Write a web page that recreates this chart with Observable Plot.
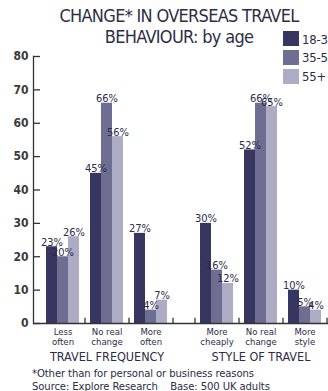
<!DOCTYPE html>
<html>
<head>
<meta charset="utf-8">
<script src="https://cdn.jsdelivr.net/npm/d3@7"></script>
<script src="https://cdn.jsdelivr.net/npm/@observablehq/plot@0.6"></script>
<style>
  html, body { margin: 0; padding: 0; background: #fff; }
  #wrap { position: relative; width: 328px; height: 391px; overflow: hidden; font-family: "DejaVu Sans Condensed", sans-serif; color: #2c2c48; }
  #title { position: absolute; left: 0; width: 358px; top: 5px; text-align: center; font-size: 18px; line-height: 21px; letter-spacing: -0.7px; color: #2e2e44; }
  #chart { position: absolute; left: 0; top: 0; }
  #chart svg { max-width: none !important; }
  .sw { position: absolute; left: 283px; width: 16px; height: 15px; }
  .lab { position: absolute; left: 302px; font-size: 13px; line-height: 15px; color: #2c2c48; white-space: nowrap; letter-spacing: -0.2px; }
  #foot { position: absolute; left: 32px; top: 368px; font-size: 11.2px; line-height: 12.5px; color: #2c2c48; white-space: nowrap; letter-spacing: -0.1px; }
</style>
</head>
<body>
<div id="wrap">
  <div id="chart"></div>
  <div id="title"></div>
  <div id="legend"></div>
  <div id="foot"></div>
</div>
<script>
// ---- data ----
const sections = ["TRAVEL FREQUENCY", "STYLE OF TRAVEL"];
const freqGroups = ["Less often", "No real change", "More often"];
const styleGroups = ["More cheaply", "No real change", "More style"];
const ages = ["18-34", "35-54", "55+"];
const ageColors = ["#363660", "#6e6e92", "#acacc5"];
const freq_18_34 = [23, 45, 27];
const freq_35_54 = [20, 66, 4];
const freq_55plus = [26, 56, 7];
const style_18_34 = [30, 52, 10];
const style_35_54 = [16, 66, 5];
const style_55plus = [12, 65, 4];
const yTicks = [0, 10, 20, 30, 40, 50, 60, 70, 80];
const titleLines = ["CHANGE* IN OVERSEAS TRAVEL", "BEHAVIOUR: by age"];
const footnotes = ["*Other than for personal or business reasons", "Source: Explore Research    Base: 500 UK adults"];

// ---- build table ----
const sectionGroups = [freqGroups, styleGroups];
const sectionValues = [
  [freq_18_34, freq_35_54, freq_55plus],
  [style_18_34, style_35_54, style_55plus]
];
const rows = [];
const domain = [];
const tickKeys = [];
const groupLabels = [];
const sectionLabels = [];
const wrapLabel = g => g.startsWith("No real") ? g.replace("No real ", "No real\n") : g.replace(" ", "\n");
sectionGroups.forEach((groups, si) => {
  groups.forEach((g, gi) => {
    ages.forEach((a, ai) => {
      const key = `${si}|${g}|${a}`;
      domain.push(key);
      rows.push({section: sections[si], group: g, age: a, value: sectionValues[si][ai][gi], key});
    });
    groupLabels.push({key: `${si}|${g}|${ages[1]}`, label: wrapLabel(g)});
    if (gi === 1) sectionLabels.push({key: `${si}|${g}|${ages[1]}`, label: sections[si]});
    if (gi < groups.length - 1) { const s = `sp${si}-${gi}`; domain.push(s); tickKeys.push(s); }
  });
  if (si < sectionGroups.length - 1) {
    ["m0", "m1", "m2"].forEach(m => domain.push(m));
    tickKeys.push("m0", "m2");
  }
});
domain.push("end"); tickKeys.push("end");

const font = '"DejaVu Sans Condensed", sans-serif';
const ink = "#2c2c48";

const chart = Plot.plot({
  width: 352,
  height: 391,
  marginLeft: 33,
  marginRight: 8,
  marginTop: 56,
  marginBottom: 68,
  style: {fontFamily: font, background: "transparent", overflow: "visible", maxWidth: "none"},
  x: {type: "band", domain, paddingInner: 0, paddingOuter: 0.68, axis: null},
  y: {domain: [0, 80], axis: null},
  color: {domain: ages, range: ageColors},
  marks: [
    Plot.barY(rows, {x: "key", y: "value", fill: "age"}),
    Plot.ruleY([0], {stroke: "#333", strokeWidth: 1.3}),
    Plot.frame({anchor: "left", stroke: "#333", strokeWidth: 1.3}),
    Plot.axisY({ticks: yTicks, tickSize: -7, tickPadding: 12, stroke: "#333", strokeWidth: 1.3, fontSize: 12, fontWeight: "bold", fill: "#3a3a3a", label: null}),
    Plot.ruleX(tickKeys, {x: d => d, y1: 0, y2: 1.6, stroke: "#333", strokeWidth: 1.3}),
    Plot.text(rows, {x: "key", y: "value", text: d => d.value + "%", lineAnchor: "bottom", dy: -1, fontSize: 11, fill: ink, letterSpacing: -0.6}),
    Plot.text(groupLabels, {x: "key", y: () => 0, text: "label", lineAnchor: "top", dy: 5, fontSize: 9.5, lineHeight: 1.0, fill: ink, letterSpacing: -0.7}),
    Plot.text(sectionLabels, {x: "key", y: () => 0, text: "label", lineAnchor: "top", dy: 29, fontSize: 12.5, fill: ink, letterSpacing: -0.9})
  ]
});
document.getElementById("chart").appendChild(chart);

// ---- legend ----
const legend = document.getElementById("legend");
const swatchTops = [31, 49.5, 68.5];
ages.forEach((a, i) => {
  const sw = document.createElement("div");
  sw.className = "sw";
  sw.style.top = swatchTops[i] + "px";
  sw.style.background = ageColors[i];
  legend.appendChild(sw);
  const lb = document.createElement("div");
  lb.className = "lab";
  lb.style.top = (swatchTops[i] + 0.5) + "px";
  lb.textContent = a;
  legend.appendChild(lb);
});
document.getElementById("title").innerHTML = titleLines.join("<br>");
document.getElementById("foot").innerHTML = footnotes.map(t => t.replace(/ {2,}/g, m => "&nbsp;".repeat(m.length))).join("<br>");
</script>
</body>
</html>
